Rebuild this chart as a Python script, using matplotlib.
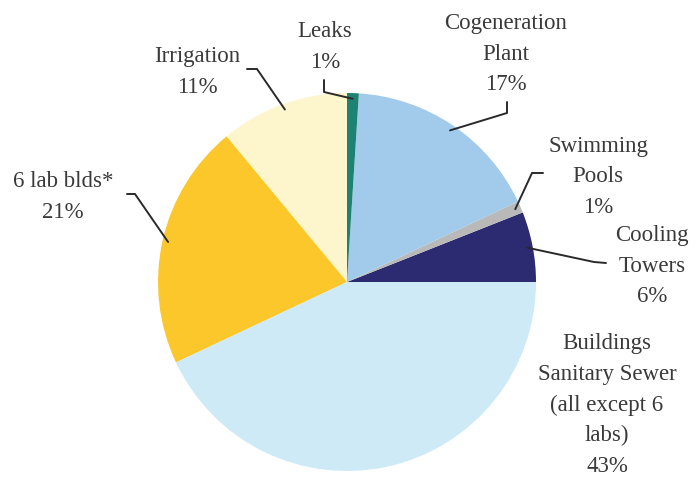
import numpy as np
import matplotlib.pyplot as plt

# water use shares, counterclockwise from 3 o'clock
categories = ["Cooling\nTowers", "Swimming\nPools", "Cogeneration\nPlant", "Leaks",
              "Irrigation", "6 lab blds*", "Buildings\nSanitary Sewer\n(all except 6\nlabs)"]
shares = [6, 1, 17, 1, 11, 21, 43]
colors = ["#2c2b72", "#b9b9b9", "#a2cbeb", "#1f8074", "#fdf6cc", "#fbc72b", "#cdeaf6"]

W, H = 696, 480
cx, cy, R = 347, H - 282, 189

fig = plt.figure(figsize=(W / 100, H / 100), dpi=100)
ax = fig.add_axes([0, 0, 1, 1])

wedges, _ = ax.pie(shares, colors=colors, startangle=0, counterclock=True,
                   center=(cx, cy), radius=R, frame=True,
                   wedgeprops=dict(linewidth=0))
ax.set_xlim(0, W)
ax.set_ylim(0, H)
ax.set_aspect("equal")
ax.axis("off")

txt = dict(family="Liberation Serif", fontsize=16.5, color="#3a3a3a",
           ha="center", va="center", linespacing=1.6)

# label centre, leader start, leader elbow (pixel coords, y down)
layout = {
    0: ((652, 266), (606, 263), (594, 262)),
    1: ((598, 177), (543, 173), (532, 173)),
    2: ((506, 54), (507, 102), (507, 113)),
    3: ((325, 47), (324, 80), (324, 92)),
    4: ((197, 72), (247, 69), (257, 69)),
    5: ((63, 197), (127, 194), (135, 194)),
    6: ((607, 405), None, None),
}

for i, w in enumerate(wedges):
    (tx, ty), start, elbow = layout[i]
    ax.text(tx, H - ty, f"{categories[i]}\n{shares[i]}%", **txt)
    if start is None:
        continue
    mid = np.deg2rad((w.theta1 + w.theta2) / 2)
    px, py = cx + 0.97 * R * np.cos(mid), cy + 0.97 * R * np.sin(mid)
    xs = [start[0], elbow[0], px]
    ys = [H - start[1], H - elbow[1], py]
    ax.plot(xs, ys, color="#2a2a2a", lw=1.4, solid_capstyle="round")

fig.savefig("out.png", dpi=100, facecolor="white")
